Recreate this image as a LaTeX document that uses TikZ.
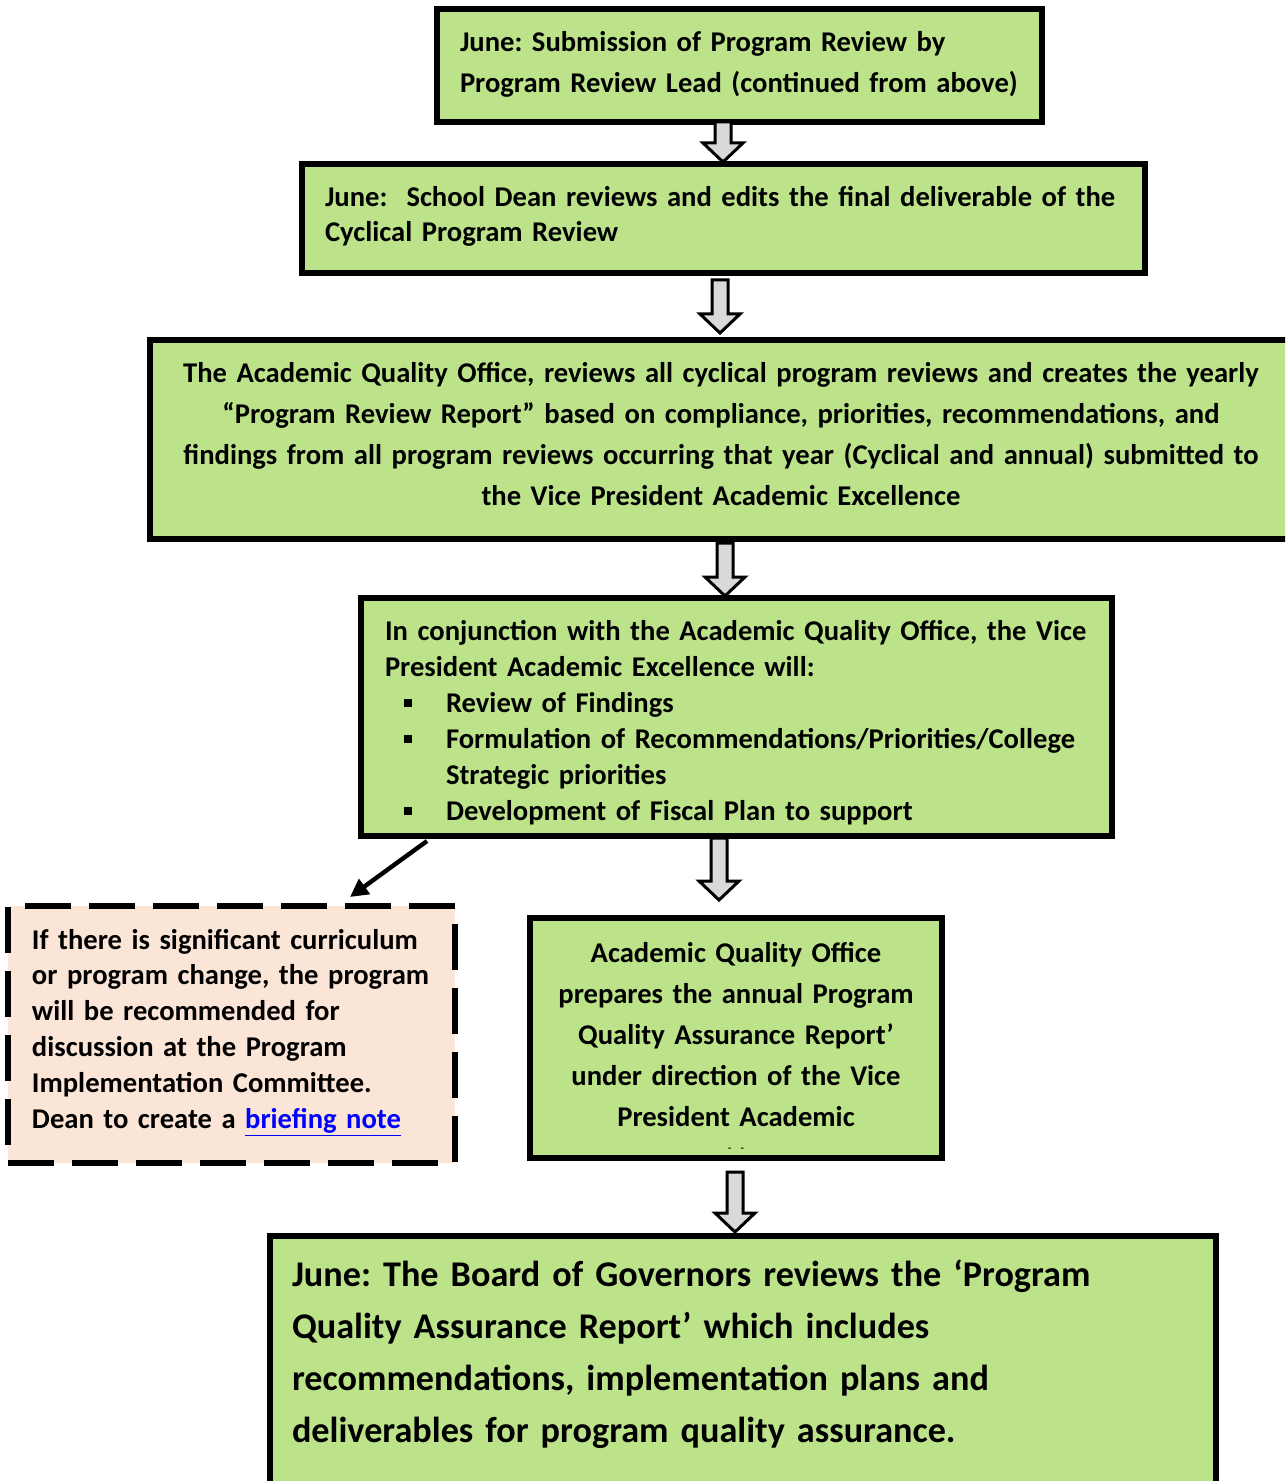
\documentclass[tikz,border=0pt]{standalone}
\usepackage{fontspec}
\setmainfont{Carlito}
\usetikzlibrary{arrows.meta,calc}
\definecolor{boxgreen}{RGB}{189,227,138}
\definecolor{notepeach}{RGB}{251,229,214}
\definecolor{arrowgray}{RGB}{217,217,217}
\definecolor{linkblue}{RGB}{0,0,255}
\frenchspacing
\hyphenpenalty=10000
\newcommand{\bul}{\makebox[30.5pt][l]{\hspace{9.5pt}\rule[2.5pt]{4pt}{4pt}}}
\tikzset{
  box/.style={draw, line width=2.6pt, fill=boxgreen, anchor=north, inner ysep=0pt, outer sep=0pt, text height=21.05pt},
  notebox/.style={draw, line width=2.8pt, dash pattern=on 23pt off 9pt, fill=notepeach, anchor=north, inner ysep=0pt, outer sep=0pt, align=left},
  blockarrow/.style={draw, line width=1.5pt, fill=arrowgray, line join=miter, to path={
    let \p1=(\tikztostart), \p2=(\tikztotarget) in
    (\x1-4pt,\y1) -- (\x1+4pt,\y1) -- (\x1+4pt,\y2+9.5pt) -- (\x1+10pt,\y2+9.5pt) -- (\x1,\y2)
    -- (\x1-10pt,\y2+9.5pt) -- (\x1-4pt,\y2+9.5pt) -- cycle}},
}
\begin{document}
\begin{tikzpicture}[x=0.5pt,y=-0.5pt]
\useasboundingbox (0,0) rectangle (1285,1481);
\clip (0,0) rectangle (1285,1481);
\node[box, text depth=35.45pt, text width=279.5pt, inner xsep=11.5pt, align=left, font=\bfseries\fontsize{14.3}{20.5}\selectfont] (1) at (739.5,9) {June: Submission of Program Review by\\\mbox{Program Review Lead (continued from above)}};
\node[box, text depth=33.45pt, text width=398.5pt, inner xsep=11.5pt, align=left, font=\bfseries\fontsize{14.3}{17.5}\selectfont] (2) at (723.5,164) {June:\ \ School Dean reviews and edits the final deliverable of the\\Cyclical Program Review};
\node[box, text depth=78.45pt, text width=548pt, inner xsep=11.5pt, align=center, font=\bfseries\fontsize{14.3}{20.5}\selectfont] (3) at (721,340) {The Academic Quality Office, reviews all cyclical program reviews and creates the yearly\\“Program Review Report” based on compliance, priorities, recommendations, and\\findings from all program reviews occurring that year (Cyclical and annual) submitted to\\the Vice President Academic Excellence};
\node[box, text depth=97.95pt, text width=351.5pt, inner xsep=12pt, align=left, font=\bfseries\fontsize{14.3}{18}\selectfont] (4) at (736.5,598) {\mbox{In conjunction with the Academic Quality Office, the Vice}\\President Academic Excellence will:\\\bul Review of Findings\\\mbox{\bul Formulation of Recommendations/Priorities/College}\\\hspace*{30.5pt}Strategic priorities\\\bul Development of Fiscal Plan to support};
\node[notebox, text height=21.55pt, text depth=106.95pt, text width=199.5pt, inner xsep=12pt, font=\bfseries\fontsize{14.3}{17.9}\selectfont] (5) at (231.5,906) {If there is significant curriculum\\\mbox{or program change, the program}\\will be recommended for\\discussion at the Program\\Implementation Committee.\\Dean to create a \textcolor{linkblue}{\underline{briefing note}}};
\node[box, text height=22.05pt, text depth=97.95pt, text width=190pt, inner xsep=8pt, align=center, font=\bfseries\fontsize{14.3}{20.5}\selectfont] (6) at (736,918) {Academic Quality Office\\prepares the annual Program\\Quality Assurance Report’\\under direction of the Vice\\President Academic\\[-8pt]{\fontsize{5}{5}\selectfont - -}};
\node[box, text height=25.2pt, text depth=200pt, text width=451pt, inner xsep=11pt, align=left, font=\bfseries\fontsize{18.1}{26}\selectfont] (7) at (743,1236) {June: The Board of Governors reviews the ‘Program\\Quality Assurance Report’ which includes\\recommendations, implementation plans and\\deliverables for program quality assurance.};
\coordinate (x1) at (723,0);
\coordinate (x2) at (720,0);
\coordinate (x3) at (725,0);
\coordinate (x4) at (719,0);
\coordinate (x5) at (735,0);
\path[blockarrow] (1.south -| x1) to ($(2.north -| x1)-(0,2)$);
\path[blockarrow] ($(2.south -| x2)+(0,7)$) to ($(3.north -| x2)-(0,7)$);
\path[blockarrow] ($(3.south -| x3)+(0,4)$) to ($(4.north -| x3)-(0,2)$);
\path[blockarrow] ($(4.south -| x4)+(0,2)$) to ($(6.north -| x4)-(0,18)$);
\path[blockarrow] ($(6.south -| x5)+(0,14)$) to ($(7.north -| x5)-(0,4)$);
\path[draw, line width=2.2pt, -{Triangle[length=9pt,width=9pt]}] ([xshift=33pt,yshift=-2.5pt]4.south west) -- ([xshift=171pt,yshift=4.5pt]5.north west);
\end{tikzpicture}
\end{document}
